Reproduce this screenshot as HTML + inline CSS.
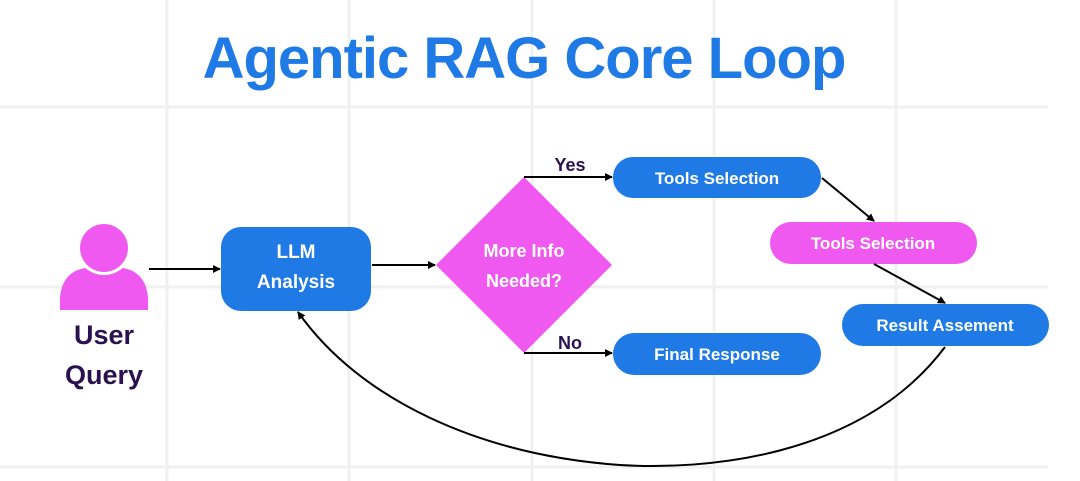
<!DOCTYPE html>
<html><head><meta charset="utf-8"><style>
html,body{margin:0;padding:0;background:#fff;}
svg{display:block;}
text{font-family:"Liberation Sans",sans-serif;font-weight:bold;}
</style></head><body>
<svg width="1080" height="481" viewBox="0 0 1080 481" xmlns="http://www.w3.org/2000/svg">
<defs>
<marker id="ah" markerWidth="8" markerHeight="8" refX="7" refY="4" orient="auto" markerUnits="userSpaceOnUse">
<path d="M0,0 L8,4 L0,8 z" fill="#000"/></marker>
</defs>
<rect width="1080" height="481" fill="#fff"/>
<g stroke="#f0f0f0" stroke-width="3">
<line x1="167" y1="0" x2="167" y2="481"/>
<line x1="349" y1="0" x2="349" y2="481"/>
<line x1="532" y1="0" x2="532" y2="481"/>
<line x1="714" y1="0" x2="714" y2="481"/>
<line x1="896" y1="0" x2="896" y2="481"/>
<line x1="0" y1="107" x2="1048" y2="107"/>
<line x1="0" y1="287" x2="1048" y2="287"/>
<line x1="0" y1="467" x2="1048" y2="467"/>
</g>
<text x="524" y="78" text-anchor="middle" font-size="58" fill="#1f7ae6" letter-spacing="-1">Agentic RAG Core Loop</text>
<!-- person -->
<path d="M60,310 L60,298 Q62,272 85,268 Q104,282 123,268 Q146,272 148,298 L148,310 Z" fill="#f059f0"/>
<circle cx="104" cy="248" r="27" fill="#fff"/>
<circle cx="104" cy="248" r="24" fill="#f059f0"/>
<text x="104" y="344" text-anchor="middle" font-size="27" fill="#2a1250">User</text>
<text x="104" y="384" text-anchor="middle" font-size="27" fill="#2a1250">Query</text>
<!-- LLM -->
<rect x="221" y="227" width="150" height="84" rx="20" fill="#1f7ae6"/>
<text x="296" y="258" text-anchor="middle" font-size="19" fill="#fff">LLM</text>
<text x="296" y="288" text-anchor="middle" font-size="19" fill="#fff">Analysis</text>
<!-- diamond -->
<polygon points="524,177 612,265 524,353 436,265" fill="#f059f0"/>
<text x="524" y="257" text-anchor="middle" font-size="18" fill="#fff">More Info</text>
<text x="524" y="287" text-anchor="middle" font-size="18" fill="#fff">Needed?</text>
<!-- boxes -->
<rect x="613" y="157" width="208" height="41" rx="20" fill="#1f7ae6"/>
<text x="717" y="184" text-anchor="middle" font-size="17" fill="#fff">Tools Selection</text>
<rect x="770" y="222" width="207" height="42" rx="21" fill="#f059f0"/>
<text x="873" y="249" text-anchor="middle" font-size="17" fill="#fff">Tools Selection</text>
<rect x="842" y="304" width="207" height="42" rx="21" fill="#1f7ae6"/>
<text x="945" y="331" text-anchor="middle" font-size="17" fill="#fff">Result Assement</text>
<rect x="613" y="333" width="208" height="42" rx="21" fill="#1f7ae6"/>
<text x="717" y="360" text-anchor="middle" font-size="17" fill="#fff">Final Response</text>
<!-- labels -->
<text x="570" y="171" text-anchor="middle" font-size="18" fill="#2a1250">Yes</text>
<text x="570" y="349" text-anchor="middle" font-size="18" fill="#2a1250">No</text>
<!-- arrows -->
<g stroke="#000" stroke-width="2" fill="none" marker-end="url(#ah)">
<line x1="149" y1="269" x2="220" y2="269"/>
<line x1="372" y1="265" x2="435" y2="265"/>
<polyline points="524,177 612,177"/>
<polyline points="524,353 612,353"/>
<line x1="822" y1="178" x2="874" y2="221"/>
<line x1="874" y1="264" x2="945" y2="303"/>
<path d="M945,347 C860,460 700,470 620,465 C480,455 360,400 298,312"/>
</g>
</svg>
</body></html>
